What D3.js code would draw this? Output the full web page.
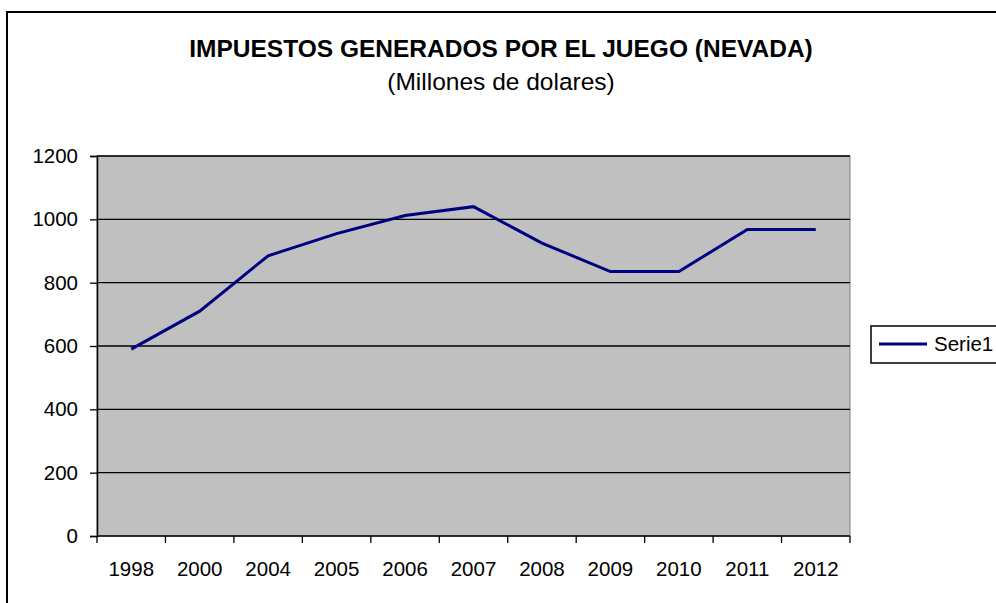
<!DOCTYPE html>
<html>
<head>
<meta charset="utf-8">
<script src="https://cdn.jsdelivr.net/npm/d3@7"></script>
<style>
  body { margin: 0; background: #fff; }
  svg { display: block; font-family: Arial, "Liberation Sans", sans-serif; }
</style>
</head>
<body>
<svg id="chart"></svg>
<script>
const years = ["1998", "2000", "2004", "2005", "2006", "2007", "2008", "2009", "2010", "2011", "2012"];
const serie1 = [590, 710, 885, 955, 1012, 1040, 925, 835, 835, 968, 968];
const yTicks = [0, 200, 400, 600, 800, 1000, 1200];

const width = 996, height = 603;
const margin = { top: 156, right: 146, bottom: 67, left: 97 };

const svg = d3.select("#chart")
    .attr("width", width)
    .attr("height", height);

// outer chart frame (runs off the right and bottom)
svg.append("rect")
    .attr("x", 7).attr("y", 12)
    .attr("width", 1000).attr("height", 600)
    .attr("fill", "none")
    .attr("stroke", "#000")
    .attr("stroke-width", 2);

const x = d3.scaleBand().domain(years).range([margin.left, width - margin.right]);
const y = d3.scaleLinear().domain([0, 1200]).range([height - margin.bottom, margin.top]);

// plot area
svg.append("rect")
    .attr("x", margin.left).attr("y", margin.top)
    .attr("width", width - margin.right - margin.left)
    .attr("height", height - margin.bottom - margin.top)
    .attr("fill", "#c0c0c0")
    .attr("stroke", "#808080")
    .attr("stroke-width", 1);

// gridlines
svg.append("g")
    .selectAll("line")
    .data(yTicks.filter(d => d > 0))
    .join("line")
    .attr("x1", margin.left).attr("x2", width - margin.right)
    .attr("y1", d => y(d)).attr("y2", d => y(d))
    .attr("stroke", "#000")
    .attr("stroke-width", 1.3);

// y axis
const yAxis = svg.append("g")
    .attr("transform", `translate(${margin.left},0)`)
    .call(d3.axisLeft(y).tickValues(yTicks).tickFormat(d3.format("d")).tickSize(7).tickPadding(12));
yAxis.select(".domain").attr("stroke-width", 1.5);
yAxis.selectAll("line").attr("stroke-width", 1.3);
yAxis.selectAll("text").attr("font-size", 20.5).attr("fill", "#000");

// x axis, ticks between categories
const xAxis = svg.append("g")
    .attr("transform", `translate(0,${height - margin.bottom})`)
    .call(d3.axisBottom(x).tickSize(0).tickPadding(25));
xAxis.select(".domain").attr("stroke-width", 1.5).attr("d", `M${margin.left},0H${width - margin.right}`);
xAxis.selectAll("text").attr("font-size", 20.5).attr("fill", "#000");
xAxis.append("g")
    .selectAll("line")
    .data(years.map(d => x(d)).concat([width - margin.right]))
    .join("line")
    .attr("x1", d => d).attr("x2", d => d)
    .attr("y1", 0).attr("y2", 7)
    .attr("stroke", "#000")
    .attr("stroke-width", 1.3);

// line
const line = d3.line()
    .x((d, i) => x(years[i]) + x.bandwidth() / 2)
    .y(d => y(d));
svg.append("path")
    .datum(serie1)
    .attr("d", line)
    .attr("fill", "none")
    .attr("stroke", "#000080")
    .attr("stroke-width", 3);

// titles
svg.append("text")
    .attr("x", 501).attr("y", 57)
    .attr("text-anchor", "middle")
    .attr("font-size", 24.5)
    .attr("font-weight", "bold")
    .text("IMPUESTOS GENERADOS POR EL JUEGO (NEVADA)");
svg.append("text")
    .attr("x", 501).attr("y", 90)
    .attr("text-anchor", "middle")
    .attr("font-size", 24.5)
    .text("(Millones de dolares)");

// legend
const legend = svg.append("g").attr("transform", "translate(871,326)");
legend.append("rect")
    .attr("width", 140).attr("height", 37)
    .attr("fill", "#fff")
    .attr("stroke", "#000")
    .attr("stroke-width", 1.5);
legend.append("line")
    .attr("x1", 8).attr("x2", 56)
    .attr("y1", 18).attr("y2", 18)
    .attr("stroke", "#000080")
    .attr("stroke-width", 3);
legend.append("text")
    .attr("x", 63).attr("y", 25)
    .attr("font-size", 20.5)
    .text("Serie1");
</script>
</body>
</html>
